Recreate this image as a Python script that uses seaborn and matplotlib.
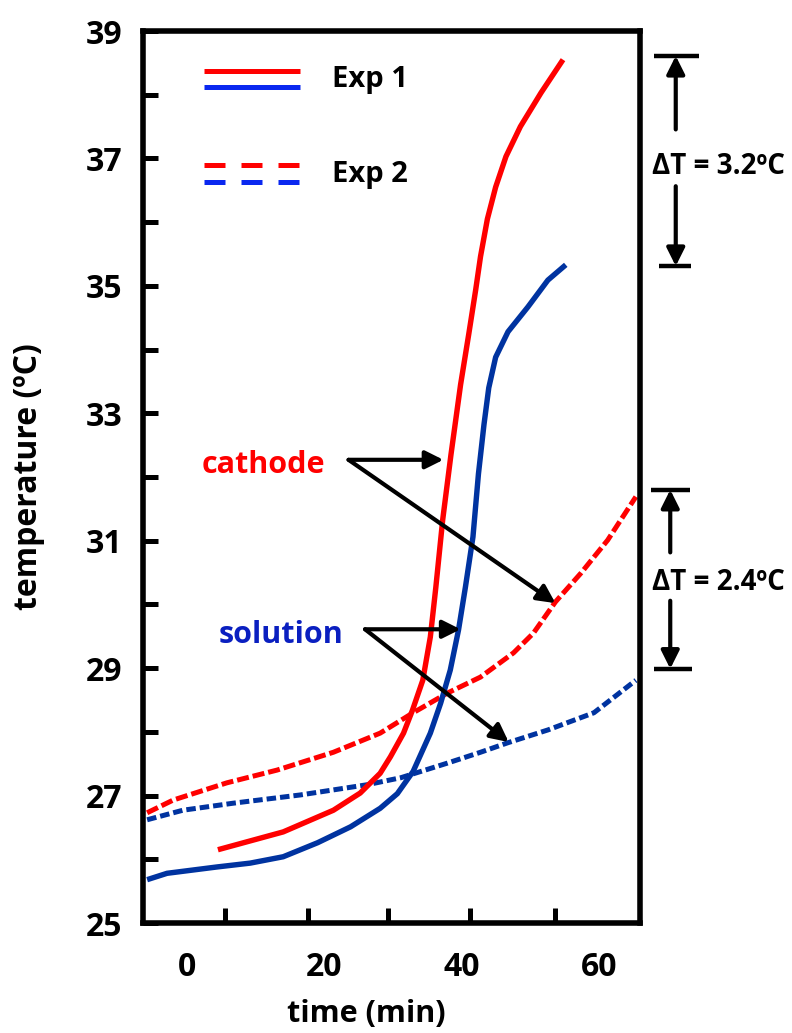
import matplotlib
matplotlib.use('Agg')
import matplotlib.pyplot as plt
import seaborn as sns
import pandas as pd
from matplotlib.legend_handler import HandlerBase
from matplotlib.lines import Line2D

# Temperature readings (time in min, temperature in ºC)
cathode_exp1_time = [4.5, 14.0, 21.3, 25.2, 28.1, 29.6, 31.5, 32.8, 34.3, 35.4, 36.2, 37.2,
                     38.4, 39.8, 41.0, 42.0, 42.7, 43.7, 44.9, 46.4, 48.5, 51.5, 54.7]
cathode_exp1_temp = [26.15, 26.43, 26.77, 27.04, 27.35, 27.61, 27.98, 28.34, 28.81, 29.49, 30.27, 31.33,
                     32.35, 33.45, 34.25, 34.94, 35.46, 36.05, 36.55, 37.03, 37.50, 38.03, 38.55]

solution_exp1_time = [-5.8, -2.9, 4.4, 9.2, 14.0, 19.0, 23.8, 28.1, 30.6, 32.9, 35.4, 36.9,
                      38.3, 39.5, 40.5, 41.6, 42.4, 43.2, 43.9, 44.9, 46.7, 49.6, 52.5, 55.1]
solution_exp1_temp = [25.68, 25.78, 25.88, 25.94, 26.04, 26.26, 26.51, 26.80, 27.03, 27.38, 27.98, 28.45,
                      28.97, 29.60, 30.27, 31.06, 32.05, 32.82, 33.40, 33.88, 34.28, 34.67, 35.09, 35.33]

cathode_exp2_time = [-5.8, -2.0, 5.8, 13.1, 21.3, 28.1, 32.9, 37.9, 42.7, 47.5, 50.4, 53.6, 57.3, 61.2, 65.3]
cathode_exp2_temp = [26.73, 26.93, 27.20, 27.40, 27.68, 27.98, 28.30, 28.61, 28.86, 29.24, 29.55, 30.04,
                     30.49, 31.01, 31.69]

solution_exp2_time = [-5.8, -0.6, 6.7, 16.5, 26.2, 31.1, 37.9, 42.7, 46.7, 52.5, 59.2, 65.3]
solution_exp2_temp = [26.62, 26.77, 26.88, 27.01, 27.17, 27.28, 27.51, 27.68, 27.83, 28.03, 28.30, 28.81]

x_tick_labels = [0, 20, 40, 60]
x_minor_ticks = [5.5, 17.6, 29.3, 41.2, 53.6]
y_tick_labels = [25, 27, 29, 31, 33, 35, 37, 39]
y_minor_ticks = [26, 28, 30, 32, 34, 36, 38]

delta_labels = ['ΔT = 3.2ºC', 'ΔT = 2.4ºC']
delta_low = [35.31, 28.99]
delta_high = [38.61, 31.80]

RED = '#ff0000'
BLUE = '#0033a0'
LEG_BLUE = '#0a28f0'

sns.set_theme(style='white')
plt.rcParams['font.family'] = ['Open Sans', 'DejaVu Sans']
plt.rcParams['font.weight'] = 'bold'
plt.rcParams['text.color'] = 'black'
plt.rcParams['axes.labelcolor'] = 'black'
plt.rcParams['xtick.color'] = 'black'
plt.rcParams['ytick.color'] = 'black'

fig = plt.figure(figsize=(7.92, 10.33), dpi=100)
ax = fig.add_axes([143 / 792, 1 - 923 / 1033, 497 / 792, 892 / 1033])


def draw(time, temp, color, dashes=None, lw=3.9):
    df = pd.DataFrame({'time': time, 'temp': temp})
    sns.lineplot(data=df, x='time', y='temp', color=color, lw=lw, estimator=None,
                 sort=False, ax=ax, solid_capstyle='butt')
    line = ax.lines[-1]
    if dashes is not None:
        line.set_dashes(dashes)
    return line


draw(cathode_exp2_time, cathode_exp2_temp, RED, dashes=(2.4, 0.8), lw=3.6)
draw(solution_exp2_time, solution_exp2_temp, BLUE, dashes=(1.9, 0.8), lw=3.6)
draw(cathode_exp1_time, cathode_exp1_temp, RED)
draw(solution_exp1_time, solution_exp1_temp, BLUE)

ax.set_xlim(-6.4, 65.9)
ax.set_ylim(25, 39)

# axes styling
for sp in ax.spines.values():
    sp.set_linewidth(4)
    sp.set_color('black')

ax.set_xticks(x_tick_labels)
ax.set_xticks(x_minor_ticks, minor=True)
ax.set_yticks(y_tick_labels)
ax.set_yticks(y_minor_ticks, minor=True)
ax.tick_params(axis='x', which='major', length=0, pad=20, labelsize=23)
ax.tick_params(axis='x', which='minor', direction='in', length=11, width=3.6, color='black', bottom=True)
ax.tick_params(axis='y', which='both', direction='in', length=11, width=3.6, color='black', left=True,
               pad=15, labelsize=23)
for lab in ax.get_xticklabels() + ax.get_yticklabels():
    lab.set_fontweight('bold')

ax.set_xlabel('time (min)', fontsize=22, fontweight='bold')
ax.set_ylabel('temperature (ºC)', fontsize=23, fontweight='bold')
ax.xaxis.set_label_coords(0.449, -0.085)
ax.yaxis.set_label_coords(-0.197, 0.5)


# legend with two stacked lines per entry
class PairHandler(HandlerBase):
    def create_artists(self, legend, orig_handle, xdescent, ydescent, width, height, fontsize, trans):
        arts = []
        for src, frac in zip(orig_handle, (0.8, -0.05)):
            y = -ydescent + height * frac
            ln = Line2D([-xdescent, -xdescent + width], [y, y])
            ln.update_from(src)
            ln.set_transform(trans)
            arts.append(ln)
        return arts


exp1 = (Line2D([], [], color=RED, lw=3.6, solid_capstyle='butt'),
        Line2D([], [], color=LEG_BLUE, lw=3.6, solid_capstyle='butt'))
exp2 = (Line2D([], [], color=RED, lw=3.6, dashes=(4.2, 3.2)),
        Line2D([], [], color=LEG_BLUE, lw=3.6, dashes=(4.2, 3.2)))
leg = ax.legend(handles=[exp1, exp2], labels=['Exp 1', 'Exp 2'], handler_map={tuple: PairHandler()},
                loc='upper left', bbox_to_anchor=(0.123, 0.962), frameon=False, borderpad=0,
                borderaxespad=0, handlelength=3.3, handleheight=0.66, handletextpad=1.1,
                labelspacing=2.25, prop={'size': 21, 'weight': 'bold'})

# labels with pointer arrows
arrow_kw = dict(arrowstyle='-|>', lw=3, color='black', mutation_scale=27, shrinkA=0, shrinkB=0)
ax.text(11.1, 32.06, 'cathode', color=RED, fontsize=22, fontweight='bold', ha='center', va='baseline')
ax.text(13.7, 29.40, 'solution', color='#0a1fc0', fontsize=22, fontweight='bold', ha='center', va='baseline')
ax.annotate('', xy=(37.3, 32.27), xytext=(23.5, 32.27), arrowprops=arrow_kw)
ax.annotate('', xy=(53.6, 30.02), xytext=(23.5, 32.27), arrowprops=arrow_kw)
ax.annotate('', xy=(39.8, 29.61), xytext=(25.9, 29.61), arrowprops=arrow_kw)
ax.annotate('', xy=(46.8, 27.84), xytext=(25.9, 29.61), arrowprops=arrow_kw)

# delta T brackets on the right
bar_x = [(67.9, 74.5, 68.7, 73.3), (67.5, 73.2, 67.9, 73.5)]
arrow_xs = [71.1, 70.3]
text_ys = [36.87, 30.35]
for lab, lo, hi, bx, axx, ty in zip(delta_labels, delta_low, delta_high, bar_x, arrow_xs, text_ys):
    span = hi - lo
    ax.plot([bx[0], bx[1]], [hi, hi], color='black', lw=3.2, clip_on=False, solid_capstyle='butt')
    ax.plot([bx[2], bx[3]], [lo, lo], color='black', lw=3.2, clip_on=False, solid_capstyle='butt')
    ax.annotate('', xy=(axx, hi), xytext=(axx, hi - span * 0.35), arrowprops=arrow_kw,
                annotation_clip=False)
    ax.annotate('', xy=(axx, lo), xytext=(axx, lo + span * 0.38), arrowprops=arrow_kw,
                annotation_clip=False)
    ax.text(77.3, ty, lab, fontsize=20, fontweight='bold', ha='center', va='center',
            clip_on=False)

fig.savefig('out.png', dpi=100)
